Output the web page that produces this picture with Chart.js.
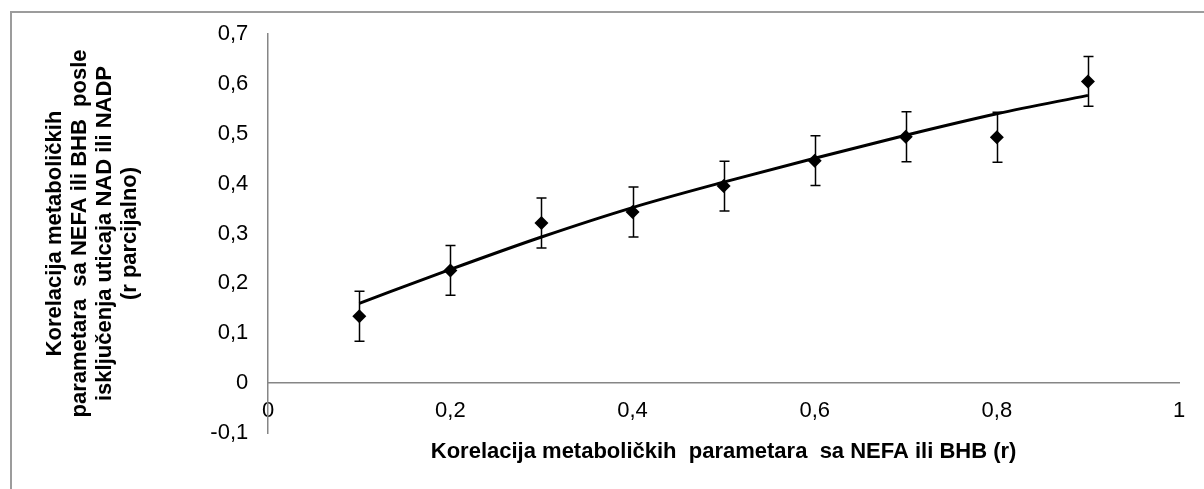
<!DOCTYPE html>
<html>
<head>
<meta charset="utf-8">
<script src="https://cdn.jsdelivr.net/npm/chart.js@4/dist/chart.umd.min.js"></script>
<style>
  html, body { margin: 0; padding: 0; background: #fff; }
  canvas { display: block; }
</style>
</head>
<body>
<canvas id="corrChart" width="1204" height="489"></canvas>
<script>
// values
const rValues = [0.1, 0.2, 0.3, 0.4, 0.5, 0.6, 0.7, 0.8, 0.9];
const rPartial = [0.134, 0.226, 0.321, 0.343, 0.395, 0.446, 0.494, 0.493, 0.605];
const errValues = [0.05, 0.05, 0.05, 0.05, 0.05, 0.05, 0.05, 0.05, 0.05];
const trendValues = [0.16, 0.228, 0.293, 0.352, 0.403, 0.451, 0.497, 0.54, 0.577];

const xTitle = "Korelacija metaboličkih  parametara  sa NEFA ili BHB (r)";
const yTitle = [
  "Korelacija metaboličkih",
  "parametara  sa NEFA ili BHB  posle",
  "isključenja uticaja NAD ili NADP",
  "(r parcijalno)"
];

const fontFamily = "'Liberation Sans', Arial, sans-serif";
const axisGrey = "#868686";

// format ticks with decimal comma
function fmt(v) {
  const s = Math.round(v * 10) / 10;
  if (s === 0) return "0";
  if (s === 1) return "1";
  return s.toFixed(1).replace(".", ",");
}

// outer frame of the chart object
const frame = {
  id: "frame",
  beforeDraw(chart) {
    const ctx = chart.ctx;
    ctx.save();
    ctx.strokeStyle = "#9c9c9c";
    ctx.lineWidth = 2;
    ctx.strokeRect(11, 12, 1300, 600);
    ctx.restore();
  }
};

// vertical error bars with caps
const errorBars = {
  id: "errorBars",
  beforeDatasetsDraw(chart) {
    const { ctx, scales: { x, y } } = chart;
    ctx.save();
    ctx.strokeStyle = "#000";
    ctx.lineWidth = 1.5;
    rValues.forEach((v, i) => {
      const px = Math.round(x.getPixelForValue(v)) + 0.5;
      const top = y.getPixelForValue(rPartial[i] + errValues[i]);
      const bot = y.getPixelForValue(rPartial[i] - errValues[i]);
      ctx.beginPath();
      ctx.moveTo(px, top);
      ctx.lineTo(px, bot);
      ctx.moveTo(px - 5, top);
      ctx.lineTo(px + 5, top);
      ctx.moveTo(px - 5, bot);
      ctx.lineTo(px + 5, bot);
      ctx.stroke();
    });
    ctx.restore();
  }
};

const ctx = document.getElementById("corrChart").getContext("2d");
new Chart(ctx, {
  type: "scatter",
  data: {
    datasets: [
      {
        label: "r parcijalno",
        data: rValues.map((v, i) => ({ x: v, y: rPartial[i] })),
        pointStyle: "rectRot",
        pointRadius: 7,
        pointHoverRadius: 7,
        backgroundColor: "#000",
        borderColor: "#000",
        borderWidth: 0,
        showLine: false,
        order: 1
      },
      {
        label: "trend",
        data: rValues.map((v, i) => ({ x: v, y: trendValues[i] })),
        showLine: true,
        borderColor: "#000",
        borderWidth: 3,
        pointRadius: 0,
        cubicInterpolationMode: "monotone",
        order: 0
      }
    ]
  },
  options: {
    responsive: false,
    animation: false,
    devicePixelRatio: 1,
    layout: { padding: { left: 10, top: 34, right: 25, bottom: 56 } },
    plugins: {
      legend: { display: false },
      tooltip: { enabled: false }
    },
    scales: {
      x: {
        type: "linear",
        position: { y: 0 },
        min: 0,
        max: 1,
        grid: { display: false, drawTicks: true, tickLength: 6, tickColor: axisGrey },
        border: { display: true, color: axisGrey, width: 1.5 },
        ticks: {
          stepSize: 0.2,
          padding: 9,
          color: "#000",
          font: { family: fontFamily, size: 22 },
          callback: v => fmt(v)
        },
        title: {
          display: true,
          text: xTitle,
          color: "#000",
          padding: { top: 5, bottom: 0 },
          font: { family: fontFamily, size: 22, weight: "bold" }
        }
      },
      y: {
        type: "linear",
        position: "left",
        min: -0.1,
        max: 0.7,
        grid: { display: false, drawTicks: true, tickLength: 6, tickColor: axisGrey },
        border: { display: true, color: axisGrey, width: 1.5 },
        ticks: {
          stepSize: 0.1,
          padding: 14,
          color: "#000",
          font: { family: fontFamily, size: 22 },
          callback: v => fmt(v)
        },
        title: {
          display: true,
          text: yTitle,
          color: "#000",
          padding: { top: 32.5, bottom: 53.5 },
          font: { family: fontFamily, size: 22, weight: "bold", lineHeight: 1.14 }
        }
      }
    }
  },
  plugins: [frame, errorBars]
});
</script>
</body>
</html>
